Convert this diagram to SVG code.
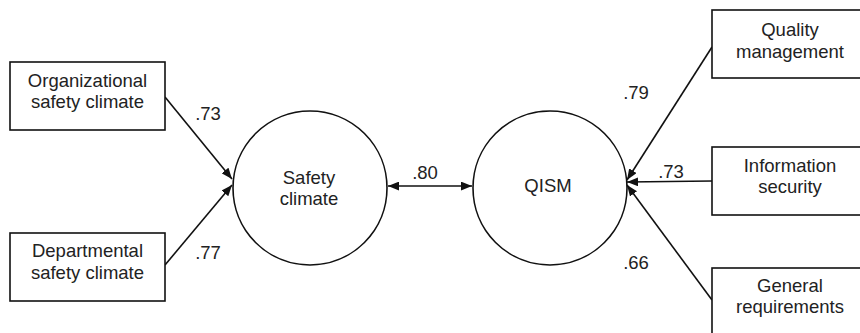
<svg xmlns="http://www.w3.org/2000/svg" width="860" height="333" viewBox="0 0 860 333">
<defs>
<marker id="ah" viewBox="0 0 10 8" refX="10" refY="4" markerWidth="11" markerHeight="9" markerUnits="userSpaceOnUse" orient="auto-start-reverse">
<path d="M0,0 L10,4 L0,8 Z" fill="#111"/>
</marker>
</defs>
<style>
.n rect,.n circle{fill:#fff;stroke:#111;stroke-width:1.6}
.c line{stroke:#111;stroke-width:1.6}
text{font-family:"Liberation Sans",Arial,sans-serif;font-size:18.5px;fill:#222;text-anchor:middle}
</style>
<rect width="860" height="333" fill="#fff"/>
<g class="c" id="connectors">
<line x1="165" y1="97" x2="232" y2="179" marker-end="url(#ah)"/>
<line x1="165" y1="265" x2="232" y2="185" marker-end="url(#ah)"/>
<line x1="388" y1="186" x2="472" y2="186" marker-start="url(#ah)" marker-end="url(#ah)"/>
<line x1="712" y1="47" x2="627" y2="180" marker-end="url(#ah)"/>
<line x1="712" y1="181" x2="627" y2="182" marker-end="url(#ah)"/>
<line x1="712" y1="300" x2="627" y2="185" marker-end="url(#ah)"/>
<text x="208" y="120">.73</text>
<text x="208" y="259">.77</text>
<text x="425" y="179">.80</text>
<text x="636" y="99">.79</text>
<text x="671" y="178">.73</text>
<text x="636" y="269">.66</text>
</g>
<g id="org" class="n">
<rect x="10" y="62" width="155" height="68"/>
<text x="87.5" y="87">Organizational</text>
<text x="87.5" y="108">safety climate</text>
</g>
<g id="dep" class="n">
<rect x="10" y="233" width="155" height="68"/>
<text x="87.5" y="257">Departmental</text>
<text x="87.5" y="279">safety climate</text>
</g>
<g id="safety" class="n">
<circle cx="310" cy="188" r="77"/>
<text x="309" y="184">Safety</text>
<text x="309" y="205">climate</text>
</g>
<g id="qism" class="n">
<circle cx="550" cy="188" r="77"/>
<text x="548" y="192">QISM</text>
</g>
<g id="qm" class="n">
<rect x="712" y="10" width="160" height="68"/>
<text x="790" y="36">Quality</text>
<text x="790" y="58">management</text>
</g>
<g id="is" class="n">
<rect x="712" y="147" width="160" height="68"/>
<text x="790" y="172">Information</text>
<text x="790" y="193">security</text>
</g>
<g id="gr" class="n">
<rect x="712" y="268" width="160" height="75"/>
<text x="790" y="292">General</text>
<text x="790" y="313">requirements</text>
</g>
</svg>
